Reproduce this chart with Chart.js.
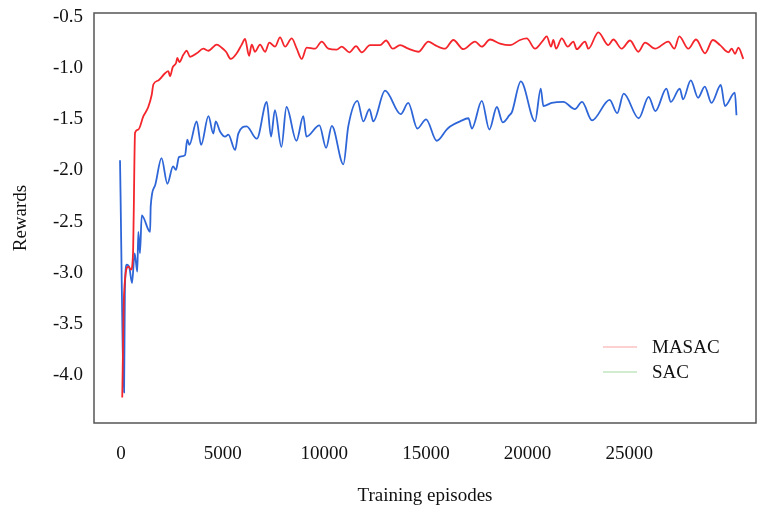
<!DOCTYPE html>
<html>
<head>
<meta charset="utf-8">
<script src="https://cdn.jsdelivr.net/npm/chart.js@4/dist/chart.umd.min.js"></script>
<style>
  body { margin: 0; background: #fff; }
  canvas { display: block; }
</style>
</head>
<body>
<canvas id="rewardChart" width="763" height="508"></canvas>
<script>
// values
const masacEpisodes = [60,150,360,490,590,620,690,850,1100,1340,1510,1590,1835,2165,2327,2411,2544,2706,2770,2868,3065,3232,3395,3724,4049,4295,4708,4954,5166,5397,5692,5938,6101,6298,6430,6593,6839,7085,7296,7577,7823,8069,8398,8644,8890,9136,9545,9874,10199,10612,10858,11232,11562,11842,12251,12743,13038,13368,13727,14135,14627,15119,15449,15941,16349,16841,17417,17746,18155,18647,19139,19631,19960,20369,20777,20944,21156,21269,21402,21682,21978,22253,22420,22829,22991,23483,23975,24221,24634,25043,25451,25781,26273,26927,27222,27468,27911,28290,28733,29112,29471,29879,30046,30209,30371,30617];
const masacRewards = [-4.22,-3.2,-2.94,-2.97,-2.81,-2.48,-1.63,-1.6,-1.47,-1.38,-1.26,-1.16,-1.12,-1.05,-1.03,-1.08,-0.99,-0.95,-0.9,-0.94,-0.87,-0.83,-0.89,-0.855,-0.81,-0.83,-0.77,-0.8,-0.84,-0.91,-0.855,-0.77,-0.715,-0.88,-0.77,-0.84,-0.77,-0.84,-0.75,-0.79,-0.7,-0.79,-0.71,-0.81,-0.91,-0.8,-0.81,-0.74,-0.81,-0.82,-0.79,-0.845,-0.785,-0.845,-0.775,-0.775,-0.73,-0.81,-0.775,-0.81,-0.84,-0.74,-0.775,-0.81,-0.725,-0.815,-0.74,-0.79,-0.72,-0.76,-0.775,-0.725,-0.71,-0.81,-0.725,-0.69,-0.79,-0.725,-0.81,-0.71,-0.79,-0.74,-0.815,-0.74,-0.81,-0.65,-0.775,-0.72,-0.81,-0.73,-0.84,-0.75,-0.81,-0.74,-0.81,-0.69,-0.81,-0.72,-0.855,-0.725,-0.775,-0.845,-0.81,-0.86,-0.8,-0.91];

const sacEpisodes = [-50,150,190,280,410,540,670,800,850,930,1020,1430,1460,1670,1990,2280,2560,2700,2850,3150,3260,3360,3720,3940,4300,4540,4660,4870,5120,5280,5610,5770,6180,6680,7170,7380,7570,7890,8140,8630,8970,9120,9760,10090,10370,10940,11180,11630,11920,12220,12410,12990,13760,14130,14580,15010,15530,16020,16190,16680,17090,17260,17750,18120,18490,18780,19110,19230,19670,20370,20650,20780,21190,21760,22330,22680,23170,24040,24410,24730,25470,25960,26290,26830,27050,27490,27650,28030,28390,28720,29050,29510,29710,30200,30280];
const sacRewards = [-1.9,-4.17,-3.17,-2.92,-2.95,-3.1,-2.81,-2.99,-2.6,-2.81,-2.44,-2.6,-2.35,-2.15,-1.88,-2.13,-1.96,-1.995,-1.87,-1.85,-1.7,-1.75,-1.52,-1.75,-1.47,-1.64,-1.52,-1.62,-1.67,-1.65,-1.8,-1.64,-1.57,-1.69,-1.33,-1.67,-1.41,-1.77,-1.38,-1.71,-1.47,-1.67,-1.56,-1.78,-1.565,-1.94,-1.57,-1.32,-1.52,-1.4,-1.52,-1.22,-1.45,-1.34,-1.59,-1.5,-1.71,-1.6,-1.57,-1.52,-1.49,-1.59,-1.32,-1.6,-1.38,-1.53,-1.46,-1.43,-1.13,-1.52,-1.2,-1.37,-1.34,-1.33,-1.4,-1.33,-1.51,-1.31,-1.44,-1.25,-1.49,-1.28,-1.42,-1.2,-1.33,-1.2,-1.305,-1.12,-1.29,-1.18,-1.34,-1.165,-1.37,-1.24,-1.46];

const xTicks = [0, 5000, 10000, 15000, 20000, 25000];
const yTicks = [-0.5, -1.0, -1.5, -2.0, -2.5, -3.0, -3.5, -4.0];

const seriesNames = ['MASAC', 'SAC'];
const legendColors = ['#f7a3a3', '#a3d9a3'];

function toPoints(xs, ys) {
  return xs.map(function(x, i) { return { x: x, y: ys[i] }; });
}

const serif = 'Liberation Serif';

const frameAndLegend = {
  id: 'frameAndLegend',
  afterDraw(chart) {
    const ctx = chart.ctx;
    const a = chart.chartArea;
    ctx.save();
    ctx.strokeStyle = '#555';
    ctx.lineWidth = 1.5;
    ctx.strokeRect(a.left, a.top, a.right - a.left, a.bottom - a.top);

    ctx.font = '19px "' + serif + '"';
    ctx.textBaseline = 'middle';
    ctx.fillStyle = '#111';
    ctx.lineWidth = 1;
    seriesNames.forEach(function(name, i) {
      const y = a.bottom - 76 + i * 25;
      ctx.strokeStyle = legendColors[i];
      ctx.beginPath();
      ctx.moveTo(a.right - 153, y);
      ctx.lineTo(a.right - 119, y);
      ctx.stroke();
      ctx.fillText(name, a.right - 104, y + 1);
    });
    ctx.restore();
  }
};

new Chart(document.getElementById('rewardChart'), {
  type: 'line',
  data: {
    datasets: [{
        label: seriesNames[0],
        data: toPoints(masacEpisodes, masacRewards),
        borderColor: '#f4262c',
        borderWidth: 1.8,
        pointRadius: 0,
        cubicInterpolationMode: 'monotone',
        fill: false
      }, {
        label: seriesNames[1],
        data: toPoints(sacEpisodes, sacRewards),
        borderColor: '#2e66d8',
        borderWidth: 1.8,
        pointRadius: 0,
        cubicInterpolationMode: 'monotone',
        fill: false
      }
    ]
  },
  options: {
    responsive: false,
    animation: false,
    layout: { padding: { top: 13, right: 7, left: 0, bottom: 0 } },
    plugins: {
      legend: { display: false },
      tooltip: { enabled: false }
    },
    scales: {
      x: {
        type: 'linear',
        min: -1330,
        max: 31240,
        grid: { display: false, drawTicks: false },
        border: { display: false },
        afterBuildTicks: function(scale) {
          scale.ticks = xTicks.map(function(v) { return { value: v }; });
        },
        afterFit: function(scale) {
          scale.height = 85;
          scale.paddingLeft = 0;
          scale.paddingRight = 0;
        },
        ticks: {
          padding: 20,
          color: '#111',
          font: { family: serif, size: 19 },
          maxRotation: 0,
          callback: function(v) { return String(v); }
        },
        title: {
          display: true,
          text: 'Training episodes',
          color: '#111',
          font: { family: serif, size: 19 },
          padding: { top: 0, bottom: 1 }
        }
      },
      y: {
        min: -4.469,
        max: -0.461,
        grid: { display: false, drawTicks: false },
        border: { display: false },
        afterBuildTicks: function(scale) {
          scale.ticks = yTicks.map(function(v) { return { value: v }; });
        },
        afterFit: function(scale) {
          scale.width = 94;
          scale.paddingTop = 0;
          scale.paddingBottom = 0;
        },
        ticks: {
          padding: 11,
          color: '#111',
          font: { family: serif, size: 19 },
          callback: function(v) { return v.toFixed(1); }
        },
        title: {
          display: true,
          text: 'Rewards',
          color: '#111',
          font: { family: serif, size: 19 },
          padding: { top: 10, bottom: 0 }
        }
      }
    }
  },
  plugins: [frameAndLegend]
});
</script>
</body>
</html>
